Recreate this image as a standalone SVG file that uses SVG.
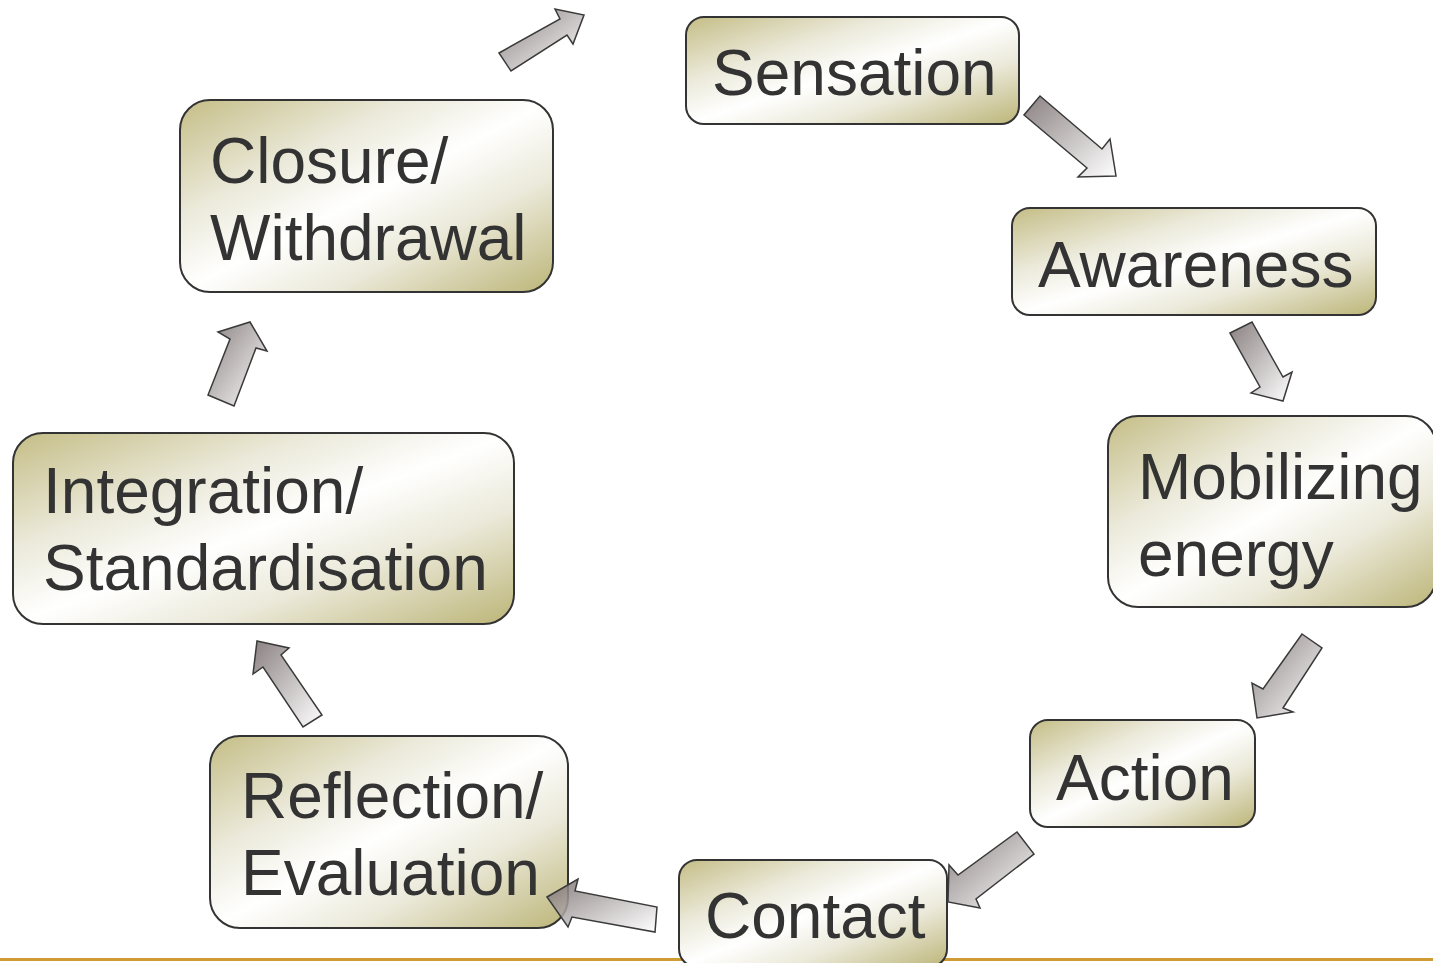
<svg xmlns="http://www.w3.org/2000/svg" width="1433" height="963" viewBox="0 0 1433 963">
<defs>
<linearGradient id="boxg" x1="0" y1="0" x2="1" y2="1">
<stop offset="0" stop-color="#c4bd86"/>
<stop offset="0.3" stop-color="#ebe9d9"/>
<stop offset="0.5" stop-color="#ffffff"/>
<stop offset="0.7" stop-color="#ebe9d9"/>
<stop offset="1" stop-color="#bcb578"/>
</linearGradient>
<linearGradient id="arrg" x1="0" y1="0" x2="1" y2="1">
<stop offset="0" stop-color="#756a6b"/>
<stop offset="1" stop-color="#ffffff"/>
</linearGradient>
<style>
.box{fill:url(#boxg);stroke:#333333;stroke-width:2}
.lbl{font-family:"Liberation Sans",Arial,sans-serif;font-size:64px;fill:#333333}
.arr{fill:url(#arrg);fill-opacity:0.85;stroke:#3a3a3a;stroke-width:1.5;stroke-linejoin:miter}
</style>
</defs>
<rect x="0" y="958" width="1433" height="3" fill="#cf9b33"/>
<g id="sensation"><rect class="box" x="686" y="17" width="333" height="107" rx="18"/><text class="lbl" x="712" y="95">Sensation</text></g>
<g id="awareness"><rect class="box" x="1012" y="208" width="364" height="107" rx="18"/><text class="lbl" x="1038" y="287">Awareness</text></g>
<g id="mobilizing"><rect class="box" x="1108" y="416" width="328" height="191" rx="30"/><text class="lbl" x="1138" y="499">Mobilizing</text><text class="lbl" x="1138" y="576">energy</text></g>
<g id="action"><rect class="box" x="1030" y="720" width="225" height="107" rx="18"/><text class="lbl" x="1056" y="800">Action</text></g>
<g id="contact"><rect class="box" x="679" y="860" width="268" height="107" rx="18"/><text class="lbl" x="705" y="938">Contact</text></g>
<g id="reflection"><rect class="box" x="210" y="736" width="358" height="192" rx="30"/><text class="lbl" x="241" y="818">Reflection/</text><text class="lbl" x="241" y="895">Evaluation</text></g>
<g id="integration"><rect class="box" x="13" y="433" width="501" height="191" rx="30"/><text class="lbl" x="43" y="513">Integration/</text><text class="lbl" x="43" y="590">Standardisation</text></g>
<g id="closure"><rect class="box" x="180" y="100" width="373" height="192" rx="30"/><text class="lbl" x="210" y="183">Closure/</text><text class="lbl" x="210" y="260">Withdrawal</text></g>
<g id="connectors">
<path class="arr" d="M499,53 L560,19 L555,9 L584,15 L573,44 L567,35 L511,71 Z"/>
<path class="arr" d="M1040,96 L1102,149 L1110,139 L1116,176 L1078,177 L1087,168 L1024,115 Z"/>
<path class="arr" d="M1230,333 L1252,322 L1283,377 L1292,372 L1283,401 L1251,393 L1260,387 Z"/>
<path class="arr" d="M1302,634 L1322,648 L1283,708 L1293,712 L1257,718 L1252,683 L1263,689 Z"/>
<path class="arr" d="M1017,832 L1034,854 L976,899 L980,908 L948,902 L949,865 L958,875 Z"/>
<path class="arr" d="M547,897 L578,879 L575,891 L657,907 L655,932 L572,917 L568,927 Z"/>
<path class="arr" d="M257,641 L289,648 L281,655 L322,715 L303,727 L263,667 L253,674 Z"/>
<path class="arr" d="M250,322 L267,351 L256,348 L234,406 L208,395 L230,339 L218,332 Z"/>
</g>
</svg>
